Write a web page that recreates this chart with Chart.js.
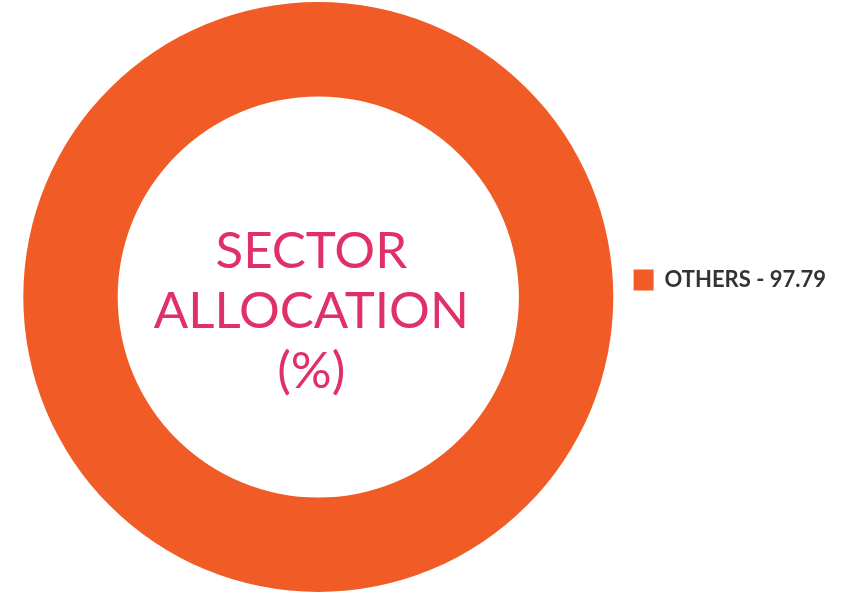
<!DOCTYPE html>
<html>
<head>
<meta charset="utf-8">
<script src="https://cdn.jsdelivr.net/npm/chart.js@4.4.1/dist/chart.umd.min.js"></script>
<style>
  html, body { margin: 0; padding: 0; background: #fff; }
  #wrap { width: 842px; height: 601px; position: relative; }
</style>
</head>
<body>
<div id="wrap"><canvas id="sectorChart"></canvas></div>
<script>
const sectors = ["OTHERS"];
const allocation = [97.79];
const sliceColors = ["#f15c26"];
const centerLines = ["SECTOR", "ALLOCATION", "(%)"];

// texto en el centro de la dona
const centerText = {
  id: "centerText",
  afterLayout(chart) {
    // la leyenda va un poco más arriba que el centro
    const lg = chart.legend;
    if (lg) {
      lg.top -= 17;
      lg.bottom -= 17;
      lg.left += 2;
      lg.right += 2;
    }
  },
  afterDraw(chart) {
    const arc = chart.getDatasetMeta(0).data[0];
    if (!arc) return;
    const ctx = chart.ctx;
    ctx.save();
    ctx.font = "51px Lato";
    ctx.fillStyle = "#e03068";
    ctx.textAlign = "center";
    ctx.textBaseline = "alphabetic";
    const lineH = 60;
    const startY = arc.y - 29;
    centerLines.forEach((line, i) => {
      ctx.fillText(line, arc.x - 7, startY + i * lineH);
    });
    ctx.restore();
  }
};

const ctxSector = document.getElementById("sectorChart");

const data = {
  labels: sectors.map((s, i) => `${s} - ${allocation[i]}`),
  datasets: [
    {
      label: "Sector allocation",
      data: allocation,
      backgroundColor: sliceColors,
      borderWidth: 0,
    },
  ],
};

const options = {
  responsive: true,
  maintainAspectRatio: false,
  animation: false,
  cutout: "68%",
  layout: {
    padding: { top: 2, bottom: 9, left: 15, right: 8 },
  },
  plugins: {
    tooltip: { enabled: false },
    legend: {
      position: "right",
      labels: {
        boxWidth: 20,
        boxHeight: 21,
        padding: 10,
        color: "#333333",
        font: { family: "Lato", size: 22, weight: "bold" },
      },
    },
  },
};

new Chart(ctxSector, {
  type: "doughnut",
  data: data,
  options: options,
  plugins: [centerText],
});
</script>
</body>
</html>
